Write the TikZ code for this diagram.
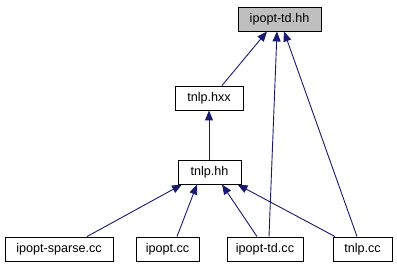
\documentclass[tikz,border=0pt]{standalone}
\usepackage{fontspec}
\setmainfont{Liberation Sans}
\usetikzlibrary{arrows.meta}
\definecolor{edgeblue}{HTML}{191970}
\definecolor{curfill}{HTML}{BFBFBF}
\begin{document}
\begin{tikzpicture}[x=1pt,y=-1pt,
  filebox/.style={draw=black, line width=0.9pt, fill=white, rectangle,
    minimum height=24pt, inner sep=0pt,
    font=\fontsize{12.6}{14}\selectfont},
  current/.style={filebox, fill=curfill},
  dep/.style={draw=edgeblue, line width=0.9pt,
    -{Triangle[length=10pt,width=8pt]}}]
\useasboundingbox (0,0) rectangle (397,272);
% header nodes
\node[current, minimum width=83pt] (tdhh)   at (279.5,19) {ipopt-td.hh};
\node[filebox, minimum width=68pt] (hxx)    at (209,98)   {tnlp.hxx};
\node[filebox, minimum width=63pt] (hh)     at (209.5,172) {tnlp.hh};
% source files
\node[filebox, minimum width=108pt] (sparse) at (59,249)   {ipopt-sparse.cc};
\node[filebox, minimum width=63pt]  (ipcc)   at (167.5,249) {ipopt.cc};
\node[filebox, minimum width=76pt]  (tdcc)   at (265,249)   {ipopt-td.cc};
\node[filebox, minimum width=59pt]  (tnlpcc) at (362.5,249) {tnlp.cc};
% include edges
\draw[dep] ([xshift=13pt]hxx.north)    -- ([xshift=-12.5pt]tdhh.south);
\draw[dep] ([xshift=4pt]tdcc.north)    -- ([xshift=-2.5pt]tdhh.south);
\draw[dep] ([xshift=-5.5pt]tnlpcc.north) -- ([xshift=4.5pt]tdhh.south);
\draw[dep] ([xshift=-0.5pt]hh.north)   -- (hxx.south);
\draw[dep] ([xshift=28pt]sparse.north) -- ([xshift=-27.5pt]hh.south);
\draw[dep] ([xshift=9.5pt]ipcc.north)  -- ([xshift=-12.5pt]hh.south);
\draw[dep] ([xshift=-8pt]tdcc.north)   -- ([xshift=12.5pt]hh.south);
\draw[dep] ([xshift=-27.5pt]tnlpcc.north) -- ([xshift=28pt]hh.south);
\end{tikzpicture}
\end{document}
